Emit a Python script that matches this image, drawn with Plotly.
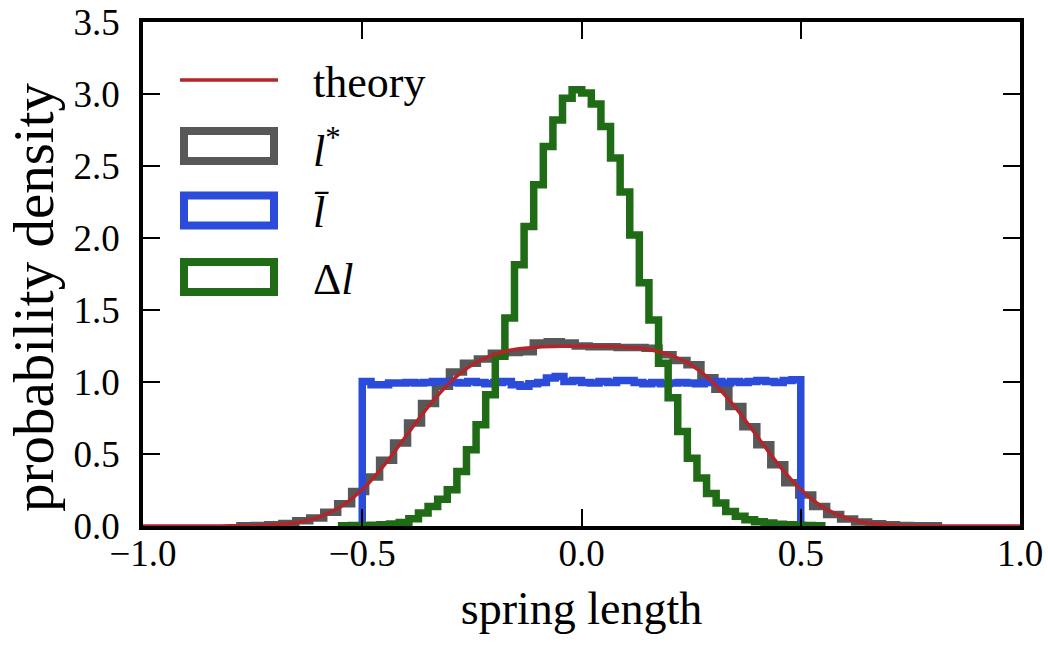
import numpy as np
import plotly.graph_objects as go

# ---------------- data ----------------
gray_range = (-0.779, 0.814)
gray_vals = [0.002, 0.004, 0.008, 0.017, 0.036, 0.056, 0.095, 0.155, 0.240, 0.340,
             0.456, 0.576, 0.715, 0.850, 0.970, 1.070, 1.130, 1.160, 1.200, 1.205,
             1.210, 1.270, 1.280, 1.270, 1.250, 1.245, 1.245, 1.240, 1.240, 1.235,
             1.190, 1.150, 1.120, 1.030, 0.950, 0.830, 0.690, 0.565, 0.425, 0.300,
             0.215, 0.135, 0.080, 0.048, 0.028, 0.015, 0.008, 0.004, 0.002, 0.001]

blue_range = (-0.5, 0.5)
blue_vals = [1.004, 0.981, 0.981, 0.993, 0.993, 0.997, 0.993, 0.997, 1.004, 1.004,
             0.997, 0.993, 1.004, 0.997, 0.988, 0.997, 1.004, 0.981, 0.970, 0.988,
             0.997, 1.027, 1.039, 1.004, 1.011, 0.997, 0.993, 1.004, 0.997, 1.011,
             1.011, 0.997, 0.988, 0.997, 0.988, 0.993, 0.997, 0.993, 0.988, 0.997,
             1.004, 0.993, 1.004, 0.997, 1.004, 1.011, 1.004, 0.997, 1.011, 1.016]

green_range = (-0.547, 0.548)
green_vals = [0.002, 0.003, 0.004, 0.006, 0.009, 0.014, 0.025, 0.050, 0.090, 0.135,
              0.185, 0.252, 0.379, 0.530, 0.703, 0.912, 1.178, 1.444, 1.815, 2.080,
              2.370, 2.636, 2.820, 2.970, 3.030, 3.007, 2.930, 2.775, 2.555, 2.320,
              2.020, 1.690, 1.430, 1.130, 0.890, 0.657, 0.470, 0.333, 0.225, 0.160,
              0.100, 0.067, 0.044, 0.030, 0.020, 0.012, 0.008, 0.005, 0.003, 0.002]

theory_x = [-1.00, -0.95, -0.90, -0.85, -0.80, -0.75, -0.70, -0.65, -0.60, -0.55,
            -0.50, -0.45, -0.40, -0.35, -0.30, -0.25, -0.20, -0.15, -0.10, -0.05,
            0.00, 0.05, 0.10, 0.15, 0.20, 0.25, 0.30, 0.35, 0.40, 0.45,
            0.50, 0.55, 0.60, 0.65, 0.70, 0.75, 0.80, 0.85, 0.90, 0.95, 1.00]
theory_y = [0.000, 0.000, 0.000, 0.000, 0.001, 0.002, 0.008, 0.023, 0.060, 0.132,
            0.253, 0.423, 0.625, 0.827, 0.997, 1.118, 1.190, 1.227, 1.242, 1.248,
            1.249, 1.248, 1.242, 1.227, 1.190, 1.118, 0.997, 0.827, 0.625, 0.423,
            0.253, 0.132, 0.060, 0.023, 0.008, 0.002, 0.001, 0.000, 0.000, 0.000, 0.000]

x_ticks = [-1.0, -0.5, 0.0, 0.5, 1.0]
y_ticks = [0.0, 0.5, 1.0, 1.5, 2.0, 2.5, 3.0, 3.5]
legend_labels = ["theory", "<i>l</i><sup>*</sup>", "<i>l\u0304</i>", "\u0394<i>l</i>"]
x_title = "spring length"
y_title = "probability density"

# ---------------- styling ----------------
C_RED = "#B2252A"
C_GRAY = "#585858"
C_BLUE = "#2B4CDB"
C_GREEN = "#1F6B16"
FONT = "Liberation Serif"

W, H = 1048, 648
ML, MR, MT, MB = 143, 28, 22, 122
PW, PH = W - ML - MR, H - MT - MB


def step_xy(rng, vals):
    edges = np.linspace(rng[0], rng[1], len(vals) + 1)
    xs = [edges[0]] + list(edges) + [edges[-1]]
    ys = [0.0] + list(vals) + [vals[-1], 0.0]
    return xs, ys


fig = go.Figure()
for rng, vals, col in [(gray_range, gray_vals, C_GRAY),
                       (blue_range, blue_vals, C_BLUE),
                       (green_range, green_vals, C_GREEN)]:
    xs, ys = step_xy(rng, vals)
    fig.add_trace(go.Scatter(x=xs, y=ys, mode="lines", line_shape="hv",
                             line=dict(color=col, width=7.5), showlegend=False,
                             hoverinfo="skip"))

fig.add_trace(go.Scatter(x=theory_x, y=theory_y, mode="lines",
                         line=dict(color=C_RED, width=3.5, shape="spline", smoothing=0.8),
                         showlegend=False, hoverinfo="skip"))


def px_x(p):
    return (p - ML) / PW


def px_y(p):
    return (H - MB - p) / PH


# manual legend
rows = [80, 146, 210.5, 277]
shapes = []
shapes.append(dict(type="line", xref="paper", yref="paper",
                   x0=px_x(180), x1=px_x(278), y0=px_y(rows[0]), y1=px_y(rows[0]),
                   line=dict(color=C_RED, width=3.5)))
for r, col in zip(rows[1:], [C_GRAY, C_BLUE, C_GREEN]):
    shapes.append(dict(type="rect", xref="paper", yref="paper",
                       x0=px_x(184), x1=px_x(274), y0=px_y(r - 15), y1=px_y(r + 15),
                       line=dict(color=col, width=8)))

annotations = []
for r, lab in zip(rows, legend_labels):
    annotations.append(dict(text=lab, xref="paper", yref="paper",
                            x=px_x(311), y=px_y(r + 2), xanchor="left", yanchor="middle",
                            showarrow=False, font=dict(family=FONT, size=44, color="black")))

# y-axis title as a rotated annotation (positioned like the reference)
annotations.append(dict(text=y_title, xref="paper", yref="paper", textangle=-90,
                        x=px_x(33), y=px_y(297), xanchor="center", yanchor="middle",
                        showarrow=False, font=dict(family=FONT, size=57, color="black")))

axis_common = dict(showgrid=False, zeroline=False, showline=True, linecolor="black",
                   linewidth=3.5, mirror="ticks", ticks="inside", ticklen=17, tickwidth=2,
                   tickcolor="black", automargin=False,
                   tickfont=dict(family=FONT, size=37, color="black"))

fig.update_layout(
    width=W, height=H,
    margin=dict(l=ML, r=MR, t=MT, b=MB),
    paper_bgcolor="white", plot_bgcolor="white",
    shapes=shapes, annotations=annotations,
    xaxis=dict(range=[-1, 1], tickvals=x_ticks, tickformat=".1f", ticklabelstandoff=-8,
               title=dict(text=x_title, font=dict(family=FONT, size=46, color="black"),
                          standoff=20),
               **axis_common),
    yaxis=dict(range=[0, 3.5], tickvals=y_ticks, tickformat=".1f", ticklabelstandoff=12,
               **axis_common),
)

fig.write_html("out.html")
